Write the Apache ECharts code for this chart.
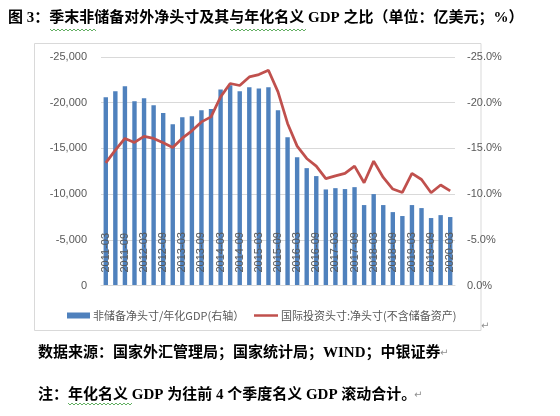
<!DOCTYPE html>
<html>
<head>
<meta charset="utf-8">
<script src="https://cdn.jsdelivr.net/npm/echarts@6/dist/echarts.min.js"></script>
<style>
html,body{margin:0;padding:0;background:#fff;}
#chart{width:560px;height:416px;}
</style>
</head>
<body>
<div id="chart"></div>
<script>
const categories = [
  '2011-03','2011-06','2011-09','2011-12','2012-03','2012-06','2012-09','2012-12',
  '2013-03','2013-06','2013-09','2013-12','2014-03','2014-06','2014-09','2014-12',
  '2015-03','2015-06','2015-09','2015-12','2016-03','2016-06','2016-09','2016-12',
  '2017-03','2017-06','2017-09','2017-12','2018-03','2018-06','2018-09','2018-12',
  '2019-03','2019-06','2019-09','2019-12','2020-03'
];
// 非储备净头寸/年化GDP (%), right axis
const ratioToGdp = [
  -20.6, -21.26, -21.8, -20.17, -20.5, -19.73, -18.86, -17.65, -18.42, -18.53, -19.18, -19.3,
  -21.44, -21.9, -21.26, -21.7, -21.55, -21.7, -19.18, -16.23, -14.04, -12.84, -11.97, -10.51,
  -10.65, -10.55, -10.76, -8.8, -10.0, -8.8, -8.03, -7.6, -8.8, -8.47, -7.38, -7.7, -7.49
];
// 国际投资头寸:净头寸(不含储备资产) (亿美元), left axis
const netPosition = [
  -13420, -14810, -16090, -15650, -16310, -16090, -15610, -15100, -16120, -16920, -17900, -18450,
  -20640, -22100, -21880, -22820, -23080, -23550, -21180, -17730, -15250, -13900, -13060, -11700,
  -12000, -12260, -13060, -11240, -13610, -11820, -10550, -10180, -12260, -11600, -10150, -10990, -10360
];
const seriesNames = ['非储备净头寸/年化GDP(右轴）', '国际投资头寸:净头寸(不含储备资产)'];
const titleText = '图 3：季末非储备对外净头寸及其与年化名义 GDP 之比（单位：亿美元；%）';
const sourceText = '数据来源：国家外汇管理局；国家统计局；WIND；中银证券';
const noteText = '注：年化名义 GDP 为往前 4 个季度名义 GDP 滚动合计。';

const serif = "'Liberation Serif','Noto Sans CJK SC',serif";
const sans = "'Liberation Sans','Noto Sans CJK SC',sans-serif";
const grey = '#595959';

// spell-check style wavy underline (decoration only)
function wavy(x0, x1, y) {
  const pts = [];
  let up = true;
  for (let x = x0; x <= x1; x += 2) { pts.push([x, up ? y - 1 : y + 1]); up = !up; }
  return {type: 'polyline', shape: {points: pts}, style: {stroke: '#3a9a3a', lineWidth: 0.8, fill: null}, silent: true};
}

const legendText = {color: grey, fontSize: 11, fontFamily: "'Noto Sans CJK SC',sans-serif", padding: [0,0,0,-2]};

const chart = echarts.init(document.getElementById('chart'), null, {renderer: 'canvas'});
chart.setOption({
  backgroundColor: '#fff',
  animation: false,
  grid: {left: 101, right: 105, top: 57, height: 228.5, containLabel: false},
  legend: [
    {
      left: 62, top: 305,
      itemWidth: 23, itemHeight: 6,
      textStyle: legendText,
      data: [{name: seriesNames[0], icon: 'rect'}]
    },
    {
      left: 249, top: 305,
      itemWidth: 24, itemHeight: 2.5,
      textStyle: legendText,
      data: [{name: seriesNames[1], icon: 'rect'}]
    }
  ],
  xAxis: {
    type: 'category',
    data: categories,
    boundaryGap: true,
    axisTick: {show: false},
    axisLine: {lineStyle: {color: '#d9d9d9'}},
    axisLabel: {
      inside: true, rotate: 90, interval: 1, margin: 13,
      color: grey, fontSize: 11, fontFamily: sans
    },
    z: 10
  },
  yAxis: [
    {
      type: 'value', min: -25000, max: 0, interval: 5000, inverse: true,
      position: 'left',
      axisLine: {show: false}, axisTick: {show: false},
      splitLine: {lineStyle: {color: '#d9d9d9'}},
      axisLabel: {
        color: grey, fontSize: 11, fontFamily: sans, margin: 14,
        formatter: v => v === 0 ? '0' : v.toLocaleString('en-US')
      }
    },
    {
      type: 'value', min: -25, max: 0, interval: 5, inverse: true,
      position: 'right',
      axisLine: {show: false}, axisTick: {show: false},
      splitLine: {show: false},
      axisLabel: {
        color: grey, fontSize: 11, fontFamily: sans, margin: 12,
        formatter: v => v.toFixed(1) + '%'
      }
    }
  ],
  series: [
    {
      name: seriesNames[0], type: 'bar', yAxisIndex: 1,
      data: ratioToGdp, barWidth: '46%',
      itemStyle: {color: '#4f81bd'}, z: 2
    },
    {
      name: seriesNames[1], type: 'line', yAxisIndex: 0,
      data: netPosition, symbol: 'none', showSymbol: false,
      lineStyle: {color: '#c0504d', width: 2.75},
      itemStyle: {color: '#c0504d'}, z: 5
    }
  ],
  graphic: [
    {type: 'rect', shape: {x: 34.5, y: 43.5, width: 446.5, height: 287}, style: {fill: 'none', stroke: '#d9d9d9', lineWidth: 1}, z: -1, silent: true},
    {type: 'text', left: 8, top: 11, style: {text: titleText, font: 'bold 15px ' + serif, fill: '#000'}},
    {type: 'text', left: 38, top: 346, style: {text: sourceText, font: 'bold 15px ' + serif, fill: '#000'}},
    {type: 'text', left: 38, top: 388, style: {text: noteText, font: 'bold 15px ' + serif, fill: '#000'}},
    {type: 'text', left: 481, top: 321, style: {text: '↵', font: '10px DejaVu Sans', fill: '#909090'}},
    {type: 'text', left: 440, top: 348, style: {text: '↵', font: '10px DejaVu Sans', fill: '#909090'}},
    {type: 'text', left: 414, top: 390, style: {text: '↵', font: '10px DejaVu Sans', fill: '#909090'}},
    wavy(50, 97, 30),
    wavy(230, 307, 30),
    wavy(68, 133, 404)
  ]
});
</script>
</body>
</html>
